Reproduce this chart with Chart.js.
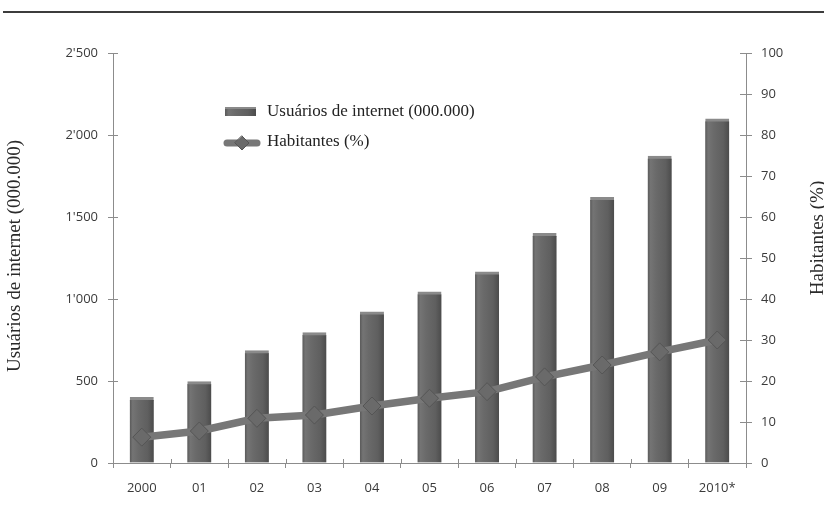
<!DOCTYPE html>
<html>
<head>
<meta charset="utf-8">
<script src="https://cdn.jsdelivr.net/npm/chart.js@4/dist/chart.umd.min.js"></script>
<style>
  html, body { margin: 0; padding: 0; background: #fff; }
  #wrap { position: relative; width: 824px; height: 525px; }
  canvas { display: block; }
</style>
</head>
<body>
<div id="wrap"><canvas id="c" width="824" height="525"></canvas></div>
<script>
// Years on the category axis
const years = ['2000', '01', '02', '03', '04', '05', '06', '07', '08', '09', '2010*'];
// Internet users (millions)
const internetUsers = [400, 496, 685, 795, 922, 1044, 1166, 1400, 1620, 1872, 2098];
// Share of inhabitants online (%)
const inhabitantsPct = [6.3, 7.8, 10.9, 11.7, 13.9, 15.8, 17.4, 21.0, 23.9, 27.1, 30.0];
// Left axis tick labels
const leftTickLabels = ['0', '500', "1'000", "1'500", "2'000", "2'500"];
// Series / axis titles
const usersLabel = 'Usuários de internet (000.000)';
const pctLabel = 'Habitantes (%)';

const SERIF = '"Liberation Serif", "Times New Roman", serif';
const SANS = '"Open Sans", sans-serif';
const AXIS_COLOR = '#8c8c8c';
const TICK_TEXT = '#3a3a3a';

function barGradient(ctx2d, x0, x1) {
  const g = ctx2d.createLinearGradient(x0, 0, x1, 0);
  g.addColorStop(0, '#595959');
  g.addColorStop(0.12, '#747474');
  g.addColorStop(0.35, '#6a6a6a');
  g.addColorStop(0.75, '#5f5f5f');
  g.addColorStop(1, '#4b4b4b');
  return g;
}

const BAR_W = 24;

// Top rule, inner tick halves, rotated axis titles and the legend box
const decorations = {
  id: 'decorations',
  afterDraw(chart) {
    const c = chart.ctx;
    const {left, right, top, bottom} = chart.chartArea;
    c.save();
    // rule across the top
    c.fillStyle = '#3c3c3c';
    c.fillRect(3, 11, 821, 2);

    // inner halves of the tick marks
    c.strokeStyle = AXIS_COLOR;
    c.lineWidth = 1;
    const y = chart.scales.y, y1 = chart.scales.y1, x = chart.scales.x;
    c.beginPath();
    y.ticks.forEach((t, i) => {
      const py = Math.round(y.getPixelForTick(i)) + 0.5;
      c.moveTo(left, py); c.lineTo(left + 5, py);
    });
    y1.ticks.forEach((t, i) => {
      const py = Math.round(y1.getPixelForTick(i)) + 0.5;
      c.moveTo(right, py); c.lineTo(right - 6, py);
    });
    for (let i = 1; i < years.length; i++) {
      const px = Math.round((x.getPixelForValue(i - 1) + x.getPixelForValue(i)) / 2) + 0.5;
      c.moveTo(px, bottom); c.lineTo(px, bottom - 4);
    }
    c.stroke();

    // axis titles, reading bottom to top
    c.fillStyle = '#2a2a2a';
    c.font = '19px ' + SERIF;
    c.textAlign = 'center';
    c.textBaseline = 'middle';
    const mid = (top + bottom) / 2;
    c.save();
    c.translate(15, mid - 2);
    c.rotate(-Math.PI / 2);
    c.fillText(usersLabel, 0, 0);
    c.restore();
    c.save();
    c.translate(818, mid - 20);
    c.rotate(-Math.PI / 2);
    c.fillText(pctLabel, 0, 0);
    c.restore();

    // legend
    const ds = chart.data.datasets;
    c.font = '17px ' + SERIF;
    c.textAlign = 'left';
    // bar entry
    c.fillStyle = barGradient(c, 225, 256);
    c.fillRect(225, 107, 31, 9);
    c.fillStyle = '#8a8a8a';
    c.fillRect(225, 107, 31, 2);
    c.fillStyle = '#222';
    c.fillText(ds[1].label, 267, 112);
    // line entry
    c.strokeStyle = '#777';
    c.lineWidth = 7;
    c.lineCap = 'round';
    c.beginPath();
    c.moveTo(227, 143); c.lineTo(257, 143);
    c.stroke();
    c.fillStyle = '#6a6a6a';
    c.strokeStyle = '#555';
    c.lineWidth = 1;
    c.beginPath();
    c.moveTo(242, 136); c.lineTo(249, 143); c.lineTo(242, 150); c.lineTo(235, 143); c.closePath();
    c.fill(); c.stroke();
    c.fillStyle = '#222';
    c.fillText(ds[0].label, 267, 142);
    c.restore();
  }
};

new Chart(document.getElementById('c'), {
  type: 'bar',
  data: {
    labels: years,
    datasets: [
      {
        type: 'line',
        label: pctLabel,
        data: inhabitantsPct,
        yAxisID: 'y1',
        order: 0,
        borderColor: '#777',
        borderWidth: 7.5,
        tension: 0,
        pointStyle: 'rectRot',
        pointRadius: 9,
        pointBackgroundColor: '#6a6a6a',
        pointBorderColor: '#555',
        pointBorderWidth: 1
      },
      {
        type: 'bar',
        label: usersLabel,
        data: internetUsers,
        yAxisID: 'y',
        order: 1,
        barThickness: BAR_W,
        backgroundColor: (ctx) => {
          const chart = ctx.chart;
          if (!chart.chartArea || ctx.type !== 'data') return '#666';
          const cx = chart.scales.x.getPixelForValue(ctx.dataIndex);
          return barGradient(chart.ctx, cx - BAR_W / 2, cx + BAR_W / 2);
        },
        borderColor: '#8a8a8a',
        borderWidth: {top: 3, left: 0, right: 0, bottom: 0},
        borderSkipped: 'bottom'
      }
    ]
  },
  options: {
    responsive: false,
    animation: false,
    events: [],
    layout: {padding: {top: 53, left: 0, right: 0, bottom: 0}},
    plugins: {legend: {display: false}, tooltip: {enabled: false}},
    scales: {
      x: {
        offset: true,
        grid: {display: true, drawOnChartArea: false, offset: true, color: AXIS_COLOR, tickLength: 5},
        border: {display: true, color: AXIS_COLOR, width: 1},
        ticks: {font: {family: SANS, size: 13}, color: TICK_TEXT, padding: 12, maxRotation: 0},
        afterFit(s) { s.height = 62; }
      },
      y: {
        position: 'left',
        min: 0, max: 2500,
        ticks: {
          stepSize: 500,
          font: {family: SANS, size: 13}, color: TICK_TEXT, padding: 10,
          callback: (v, i) => leftTickLabels[i]
        },
        grid: {drawOnChartArea: false, color: AXIS_COLOR, tickLength: 5},
        border: {display: true, color: AXIS_COLOR, width: 1},
        afterFit(s) { s.width = 113; }
      },
      y1: {
        position: 'right',
        min: 0, max: 100,
        ticks: {stepSize: 10, font: {family: SANS, size: 13}, color: TICK_TEXT, padding: 9},
        grid: {drawOnChartArea: false, color: AXIS_COLOR, tickLength: 6},
        border: {display: true, color: AXIS_COLOR, width: 1},
        afterFit(s) { s.width = 78; }
      }
    }
  },
  plugins: [decorations]
});
</script>
</body>
</html>
